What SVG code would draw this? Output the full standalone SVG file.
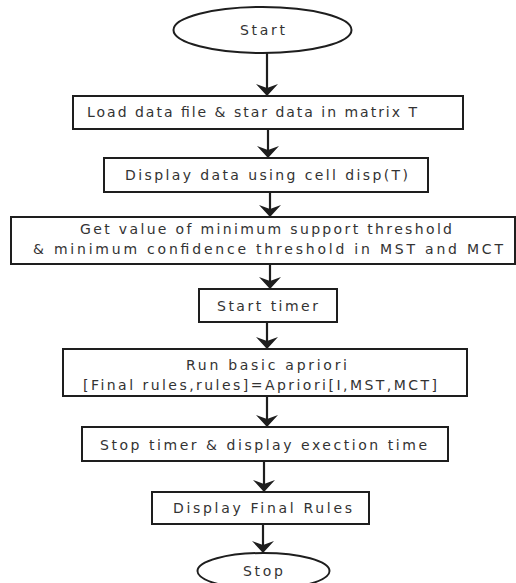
<svg xmlns="http://www.w3.org/2000/svg" width="516" height="583" viewBox="0 0 516 583">
<defs>
<style>
.box{fill:#fff;stroke:#1e1e1e;stroke-width:2}
.t{font-family:"DejaVu Sans",Verdana,sans-serif;font-size:14px;fill:#333}
.c{stroke:#1e1e1e;stroke-width:2.2;fill:none}
.ah{fill:#1e1e1e;stroke:none}
</style>
</defs>
<rect width="516" height="583" fill="#fff"/>
<g id="connectors">
<line class="c" x1="267" y1="53" x2="267" y2="95"/>
<path class="ah" d="M267,96 L256,84 L267,88 L278,84 Z"/>
<line class="c" x1="268" y1="129" x2="268" y2="157"/>
<path class="ah" d="M268,158 L257,146 L268,150 L279,146 Z"/>
<line class="c" x1="270" y1="192" x2="270" y2="216"/>
<path class="ah" d="M270,217 L259,205 L270,209 L281,205 Z"/>
<line class="c" x1="270" y1="264" x2="270" y2="288"/>
<path class="ah" d="M270,289 L259,277 L270,281 L281,277 Z"/>
<line class="c" x1="267" y1="322" x2="267" y2="348"/>
<path class="ah" d="M267,349 L256,337 L267,341 L278,337 Z"/>
<line class="c" x1="267" y1="396" x2="267" y2="426"/>
<path class="ah" d="M267,427 L256,415 L267,419 L278,415 Z"/>
<line class="c" x1="264" y1="461" x2="264" y2="491"/>
<path class="ah" d="M264,492 L253,480 L264,484 L275,480 Z"/>
<line class="c" x1="263" y1="524" x2="263" y2="552"/>
<path class="ah" d="M263,553 L252,541 L263,545 L274,541 Z"/>
</g>
<g id="start">
<ellipse class="box" cx="262.5" cy="30" rx="89" ry="23"/>
<text class="t" x="240" y="35" textLength="45" lengthAdjust="spacing">Start</text>
</g>
<g id="load">
<rect class="box" x="73" y="96" width="390" height="33"/>
<text class="t" x="87" y="117" textLength="330" lengthAdjust="spacing">Load data file &amp; star data in matrix T</text>
</g>
<g id="display">
<rect class="box" x="104" y="158" width="324" height="34"/>
<text class="t" x="125" y="180" textLength="283" lengthAdjust="spacing">Display data using cell disp(T)</text>
</g>
<g id="threshold">
<rect class="box" x="11" y="217" width="504" height="47"/>
<text class="t" x="80" y="234" textLength="372" lengthAdjust="spacing">Get value of minimum support threshold</text>
<text class="t" x="33" y="254" textLength="470" lengthAdjust="spacing">&amp; minimum confidence threshold in MST and MCT</text>
</g>
<g id="starttimer">
<rect class="box" x="199" y="289" width="138" height="33"/>
<text class="t" x="217" y="311" textLength="101" lengthAdjust="spacing">Start timer</text>
</g>
<g id="apriori">
<rect class="box" x="63" y="349" width="404" height="47"/>
<text class="t" x="186" y="370" textLength="161" lengthAdjust="spacing">Run basic apriori</text>
<text class="t" x="83" y="390" textLength="354" lengthAdjust="spacing">[Final rules,rules]=Apriori[I,MST,MCT]</text>
</g>
<g id="stoptimer">
<rect class="box" x="82" y="427" width="366" height="34"/>
<text class="t" x="100" y="450" textLength="327" lengthAdjust="spacing">Stop timer &amp; display exection time</text>
</g>
<g id="finalrules">
<rect class="box" x="152" y="492" width="217" height="32"/>
<text class="t" x="173" y="513" textLength="179" lengthAdjust="spacing">Display Final Rules</text>
</g>
<g id="stop">
<ellipse class="box" cx="263.5" cy="571" rx="66" ry="18"/>
<text class="t" x="243" y="576" textLength="40" lengthAdjust="spacing">Stop</text>
</g>
</svg>
